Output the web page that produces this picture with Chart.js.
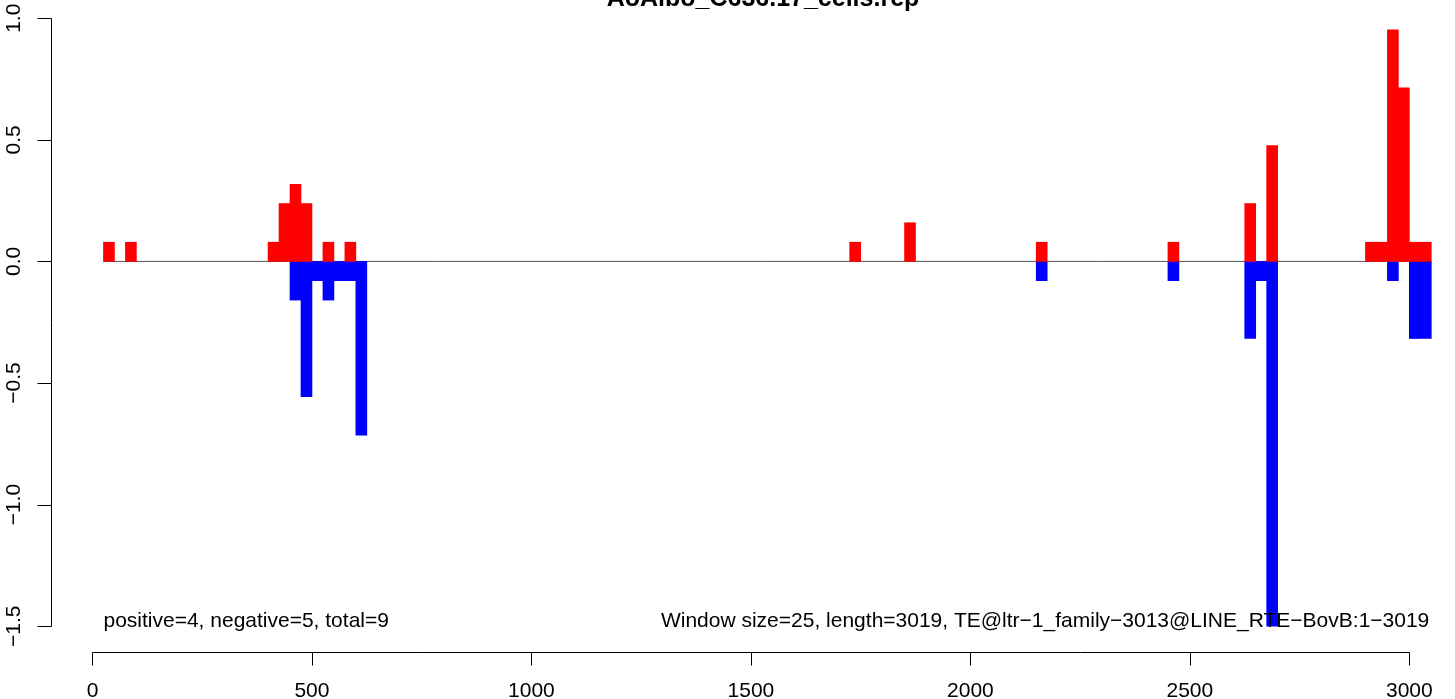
<!DOCTYPE html>
<html>
<head>
<meta charset="utf-8">
<script src="https://cdn.jsdelivr.net/npm/chart.js@4/dist/chart.umd.min.js"></script>
<style>
html,body{margin:0;padding:0;background:#fff;overflow:hidden;}
#wrap{width:1455px;height:699px;}
</style>
</head>
<body>
<div id="wrap"><canvas id="c" width="1455" height="699"></canvas></div>
<script>
// ---- data (window start positions, window size 25) ----
const windowSize = 25;
const posStarts = [25, 75, 400, 425, 450, 475, 525, 575, 1725, 1850, 2150, 2450, 2625, 2675, 2900, 2925, 2950, 2975, 3000, 3025];
const posValues = [0.079, 0.079, 0.079, 0.238, 0.317, 0.238, 0.079, 0.079, 0.079, 0.159, 0.079, 0.079, 0.238, 0.476, 0.079, 0.079, 0.952, 0.714, 0.079, 0.079];
const negStarts = [450, 475, 500, 525, 550, 575, 600, 2150, 2450, 2625, 2650, 2675, 2950, 3000, 3025];
const negValues = [-0.159, -0.556, -0.079, -0.159, -0.079, -0.079, -0.714, -0.079, -0.079, -0.317, -0.079, -1.5, -0.079, -0.317, -0.317];
const baselineRange = [25, 3050];
const xTicks = [0, 500, 1000, 1500, 2000, 2500, 3000];
const xTickLabels = ["0", "500", "1000", "1500", "2000", "2500", "3000"];
const yTicks = [-1.5, -1.0, -0.5, 0.0, 0.5, 1.0];
const yTickLabels = ["\u22121.5", "\u22121.0", "\u22120.5", "0.0", "0.5", "1.0"];
const titleText = "AoAlbo_C636.17_cells.rep";
const leftNote = "positive=4, negative=5, total=9";
const rightNote = "Window size=25, length=3019, TE@ltr\u22121_family\u22123013@LINE_RTE\u2212BovB:1\u22123019";

const FONT = "'Liberation Sans', Arial, Helvetica, sans-serif";

const toPoints = (starts, vals) => starts.map((s, i) => ({x: s + windowSize / 2, y: vals[i]}));

const rAxes = {
  id: 'rAxes',
  afterDraw(chart) {
    const ctx = chart.ctx;
    const xs = chart.scales.x, ys = chart.scales.y;
    const area = chart.chartArea;
    ctx.save();
    ctx.strokeStyle = '#000';
    ctx.fillStyle = '#000';
    ctx.lineWidth = 1;
    // y axis
    const yTop = ys.getPixelForValue(yTicks[yTicks.length - 1]);
    const yBot = ys.getPixelForValue(yTicks[0]);
    const ax = Math.round(area.left) + 0.5;
    ctx.beginPath();
    ctx.moveTo(ax, Math.round(yTop) + 0.5);
    ctx.lineTo(ax, Math.round(yBot) + 0.5);
    yTicks.forEach(v => {
      const p = Math.round(ys.getPixelForValue(v)) + 0.5;
      ctx.moveTo(ax, p);
      ctx.lineTo(ax - 14, p);
    });
    ctx.stroke();
    ctx.font = '21px ' + FONT;
    ctx.textAlign = 'center';
    ctx.textBaseline = 'alphabetic';
    yTicks.forEach((v, i) => {
      const p = ys.getPixelForValue(v);
      ctx.save();
      ctx.translate(20, p);
      ctx.rotate(-Math.PI / 2);
      ctx.fillText(yTickLabels[i], 0, 0);
      ctx.restore();
    });
    // x axis
    const bx = Math.round(area.bottom) + 0.5;
    const xL = xs.getPixelForValue(xTicks[0]);
    const xR = xs.getPixelForValue(xTicks[xTicks.length - 1]);
    ctx.beginPath();
    ctx.moveTo(Math.round(xL) + 0.5, bx);
    ctx.lineTo(Math.round(xR) + 0.5, bx);
    xTicks.forEach(v => {
      const p = Math.round(xs.getPixelForValue(v)) + 0.5;
      ctx.moveTo(p, bx);
      ctx.lineTo(p, bx + 13);
    });
    ctx.stroke();
    xTicks.forEach((v, i) => {
      ctx.fillText(xTickLabels[i], xs.getPixelForValue(v), 697);
    });
    // notes
    ctx.textAlign = 'left';
    ctx.fillText(leftNote, xs.getPixelForValue(baselineRange[0]), 627);
    ctx.textAlign = 'right';
    ctx.fillText(rightNote, xs.getPixelForValue(baselineRange[1]) - 2, 627);
    // title
    ctx.font = 'bold 25px ' + FONT;
    ctx.textAlign = 'center';
    ctx.fillText(titleText, 763, 6);
    ctx.restore();
  }
};

new Chart(document.getElementById('c'), {
  data: {
    datasets: [
      {
        type: 'bar', label: 'positive', data: toPoints(posStarts, posValues),
        backgroundColor: '#FF0000', borderWidth: 0, grouped: false,
        barPercentage: 1.0, categoryPercentage: 1.0, order: 1
      },
      {
        type: 'bar', label: 'negative', data: toPoints(negStarts, negValues),
        backgroundColor: '#0000FF', borderWidth: 0, grouped: false,
        barPercentage: 1.0, categoryPercentage: 1.0, order: 1
      },
      {
        type: 'line', label: 'baseline',
        data: [{x: baselineRange[0], y: 0}, {x: baselineRange[1], y: 0}],
        borderColor: '#555555', borderWidth: 1, pointRadius: 0, fill: false, order: 2
      }
    ]
  },
  options: {
    responsive: false,
    animation: false,
    devicePixelRatio: 1,
    layout: {padding: {left: 51, right: 0, top: 0, bottom: 47}},
    plugins: {legend: {display: false}, tooltip: {enabled: false}, title: {display: false}},
    scales: {
      x: {type: 'linear', min: -94.5, max: 3104, display: false, offset: false},
      y: {type: 'linear', min: -1.606, max: 1.075, display: false}
    }
  },
  plugins: [rAxes]
});
</script>
</body>
</html>
